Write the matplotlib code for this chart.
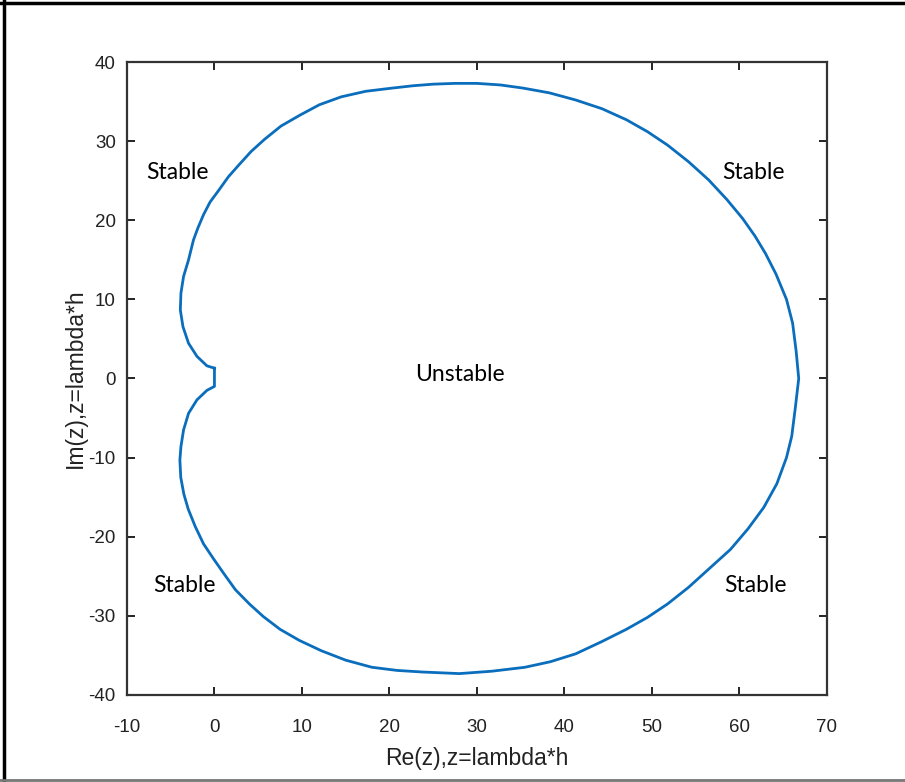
"""
Stability region boundary in the complex z = lambda*h plane.

Writes out.png (905x782).
"""

import matplotlib.pyplot as plt
from matplotlib.lines import Line2D

# ---------------------------------------------------------------------------
# Data (boundary, walked round from the cusp at z = 0)
# ---------------------------------------------------------------------------

upper_re = [0.0, -0.86, -2.0, -2.96, -3.6, -3.9, -3.83, -3.53, -2.96, -2.4,
            -1.9, -1.25, -0.5, 0.5, 1.6, 2.8, 4.2, 5.7, 7.6, 9.8,
            12.0, 14.5, 17.3, 20.3, 22.7, 25.0, 27.5, 30.0, 32.7, 35.3,
            38.3, 41.3, 44.3, 47.1, 49.5, 51.8, 54.2, 56.5, 58.6, 60.4,
            61.8, 63.0, 64.2, 65.4, 66.1, 66.5, 66.8]
upper_im = [1.3, 1.6, 2.8, 4.45, 6.55, 8.66, 10.8, 12.9, 15.0, 17.5,
            19.0, 20.7, 22.3, 23.8, 25.5, 27.0, 28.7, 30.2, 31.9, 33.3,
            34.6, 35.6, 36.3, 36.7, 37.0, 37.2, 37.3, 37.3, 37.1, 36.7,
            36.1, 35.2, 34.1, 32.7, 31.2, 29.5, 27.4, 25.1, 22.6, 20.2,
            18.0, 15.8, 13.2, 10.0, 7.0, 3.5, 0.0]

lower_re = [66.4, 66.0, 65.4, 64.3, 62.8, 61.0, 59.0, 56.5, 54.2, 51.8,
            49.5, 47.1, 44.2, 41.3, 38.4, 35.5, 31.7, 28.0, 25.9, 23.8,
            20.9, 18.0, 15.0, 12.2, 9.7, 7.5, 5.6, 4.0, 2.4, 1.1,
            -0.1, -1.25, -2.2, -3.0, -3.5, -3.85, -3.95, -3.83, -3.53, -2.96,
            -2.0, -0.86, 0.0, 0.0]
lower_im = [-3.8, -7.3, -10.0, -13.3, -16.3, -19.0, -21.6, -24.1, -26.4, -28.5,
            -30.2, -31.7, -33.3, -34.8, -35.8, -36.5, -37.0, -37.3, -37.2, -37.1,
            -36.9, -36.5, -35.6, -34.4, -33.1, -31.7, -30.1, -28.5, -26.7, -24.7,
            -22.8, -20.9, -18.7, -16.5, -14.6, -12.5, -10.3, -8.6, -6.5, -4.4,
            -2.7, -1.5, -1.0, 1.3]

region_labels = ["Stable", "Stable", "Stable", "Stable", "Unstable"]
label_re = [-4.2, 61.6, -3.4, 61.8, 28.1]
label_im = [26.0, 26.0, -26.2, -26.2, 0.5]

x_ticks = [-10, 0, 10, 20, 30, 40, 50, 60, 70]
y_ticks = [-40, -30, -20, -10, 0, 10, 20, 30, 40]


def main():
    plt.rcParams.update({
        "font.family": ["Liberation Sans", "DejaVu Sans"],
        "axes.linewidth": 1.6,
        "axes.unicode_minus": False,
    })

    fig = plt.figure(figsize=(9.05, 7.82), dpi=100, facecolor="white")
    ax = fig.add_axes([0.1403, 0.1113, 0.7732, 0.8094])

    ax.plot(upper_re + lower_re, upper_im + lower_im,
            color="#0a6ebd", linewidth=2.0, solid_joinstyle="round")

    for txt, x, y in zip(region_labels, label_re, label_im):
        ax.text(x, y, txt, ha="center", va="center", fontsize=16.5,
                family=["Lato", "DejaVu Sans"], color="black")

    ax.set_xlim(-10, 70)
    ax.set_ylim(-40, 40)
    ax.set_xticks(x_ticks)
    ax.set_yticks(y_ticks)
    ax.tick_params(direction="in", length=6, width=1.4, top=True, right=True,
                   labelsize=13.5, colors="#222222")
    ax.tick_params(axis="x", pad=17)
    ax.tick_params(axis="y", pad=8)
    for sp in ax.spines.values():
        sp.set_color("#333333")

    ax.set_xlabel("Re(z),z=lambda*h", fontsize=16.5, labelpad=8, color="#222222")
    ax.set_ylabel("Im(z),z=lambda*h", fontsize=16.5, labelpad=1, color="#222222")

    # frame of the original picture
    fig.add_artist(Line2D([0, 1], [1 - 2.5 / 782] * 2, color="black", lw=2.5,
                          transform=fig.transFigure))
    fig.add_artist(Line2D([4 / 905] * 2, [0, 1], color="black", lw=2.5,
                          transform=fig.transFigure))
    fig.add_artist(Line2D([0, 1], [1 - 780 / 782] * 2, color="#777777", lw=2,
                          transform=fig.transFigure))

    fig.savefig("out.png", dpi=100, facecolor="white")
    plt.close(fig)


if __name__ == "__main__":
    main()
